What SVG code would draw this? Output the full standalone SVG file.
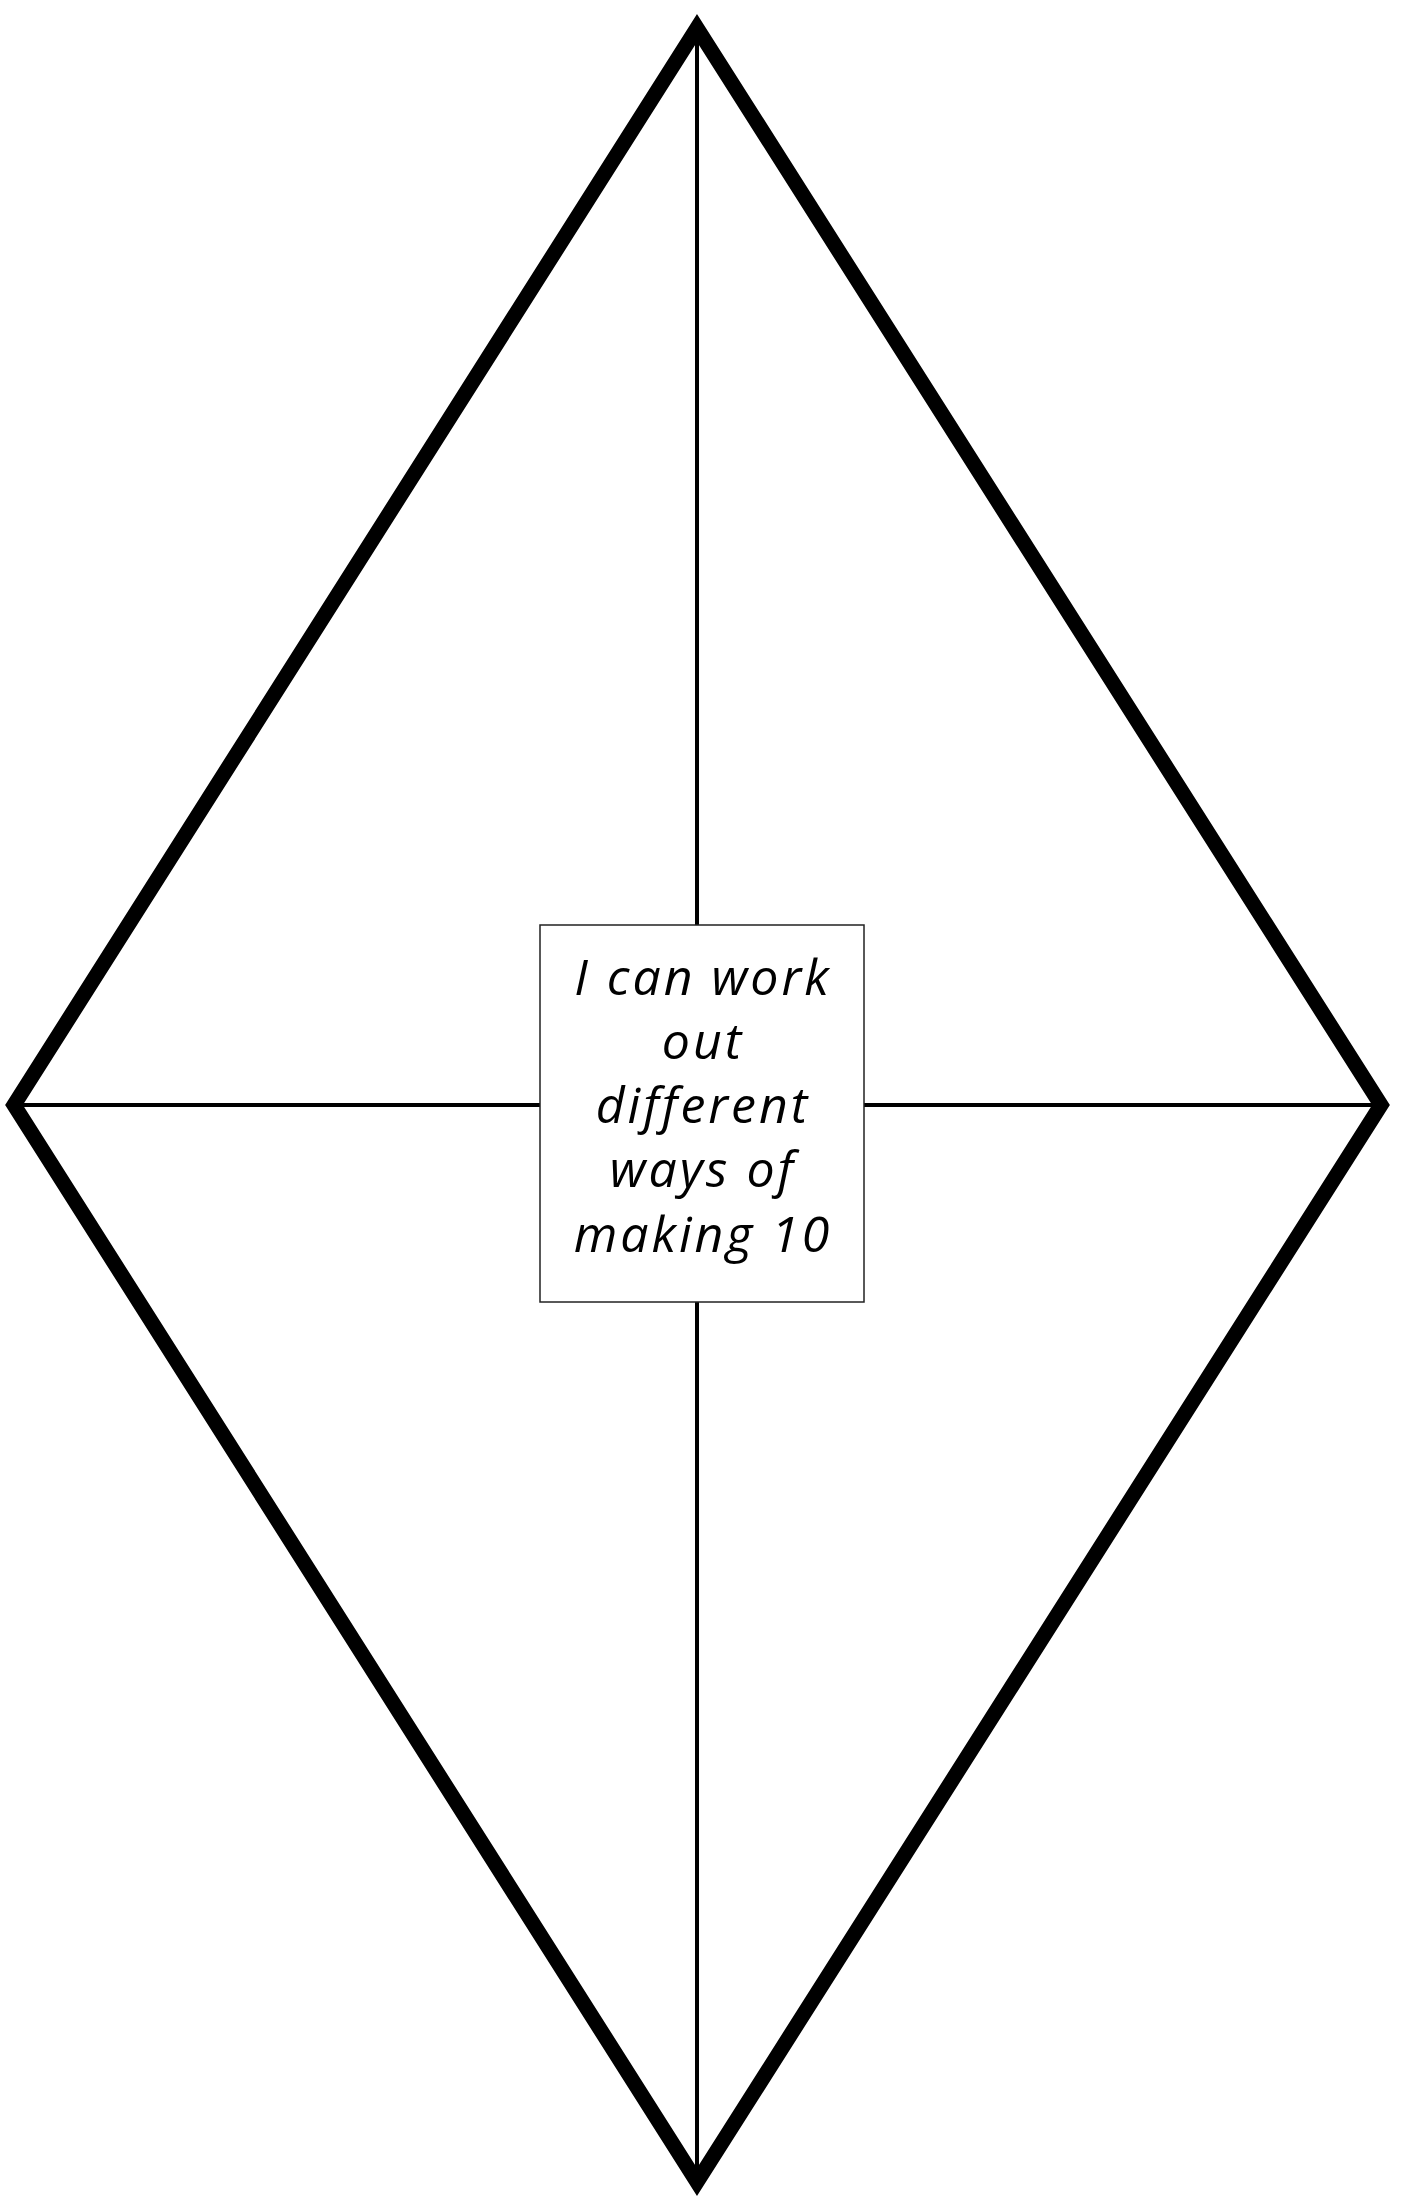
<svg xmlns="http://www.w3.org/2000/svg" width="1404" height="2196" viewBox="0 0 1404 2196">
<style>
.kite{fill:none;stroke:#000;stroke-width:15;stroke-linejoin:miter;stroke-miterlimit:10}
.div{stroke:#000;stroke-width:4;fill:none}
.box{fill:#fff;stroke:#222;stroke-width:1.5}
.lbl{font-family:"Open Sans","Noto Sans",sans-serif;font-style:italic;font-size:50px;letter-spacing:3px;fill:#000;text-anchor:middle}
</style>
<rect width="1404" height="2196" fill="#fff"/>
<g id="connectors">
<line class="div" x1="697" y1="28" x2="697" y2="2182"/>
<line class="div" x1="14" y1="1105" x2="1381" y2="1105"/>
</g>
<g id="kite">
<polygon class="kite" points="697,28 1381,1105 697,2182 14,1105"/>
</g>
<g id="center-label">
<rect class="box" x="540" y="925" width="324" height="377"/>
<text class="lbl" x="703" y="995">I can work</text>
<text class="lbl" x="703" y="1059">out</text>
<text class="lbl" x="703" y="1123">different</text>
<text class="lbl" x="703" y="1187">ways of</text>
<text class="lbl" x="703" y="1252">making 10</text>
</g>
</svg>
